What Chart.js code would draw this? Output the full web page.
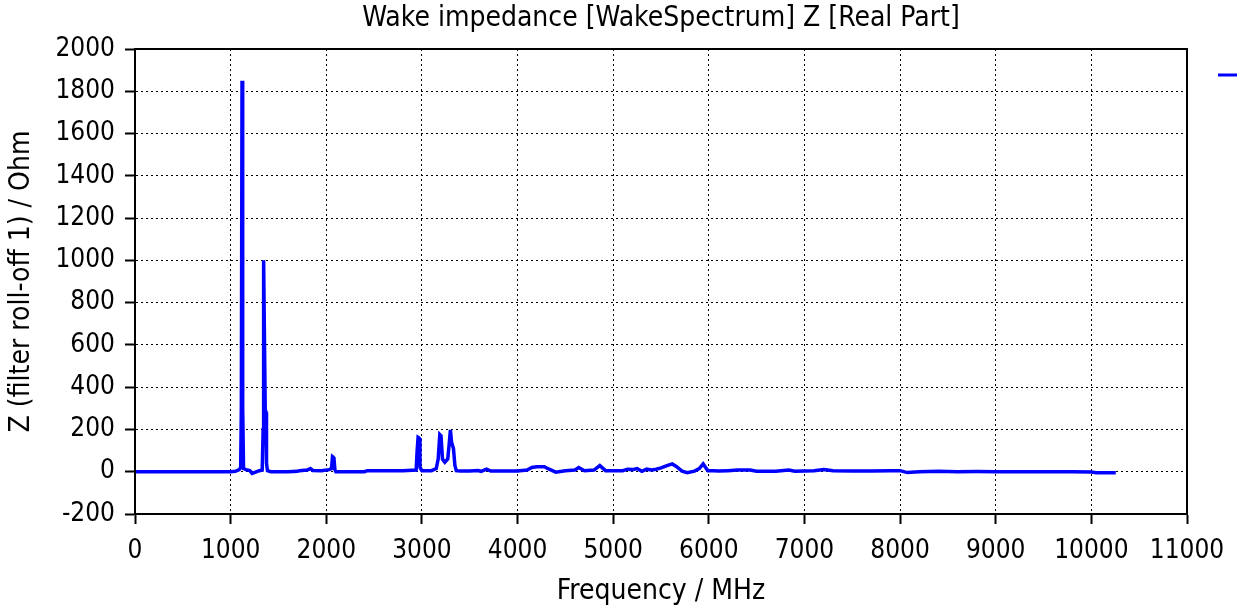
<!DOCTYPE html>
<html>
<head>
<meta charset="utf-8">
<script src="https://cdn.jsdelivr.net/npm/chart.js@4.4.1/dist/chart.umd.min.js"></script>
<style>
html,body{margin:0;padding:0;background:#fff;}
#wrap{width:1237px;height:609px;}
</style>
</head>
<body>
<div id="wrap"><canvas id="c" width="1237" height="609"></canvas></div>
<script>
// Frequency (MHz)
const freq = [
  0, 1000, 1050, 1090, 1105, 1112, 1119, 1126, 1135, 1160,
  1200, 1225, 1300, 1330, 1340, 1345, 1352, 1362, 1370, 1375,
  1385, 1420, 1500, 1600, 1700, 1720, 1800, 1834, 1860, 1950,
  2030, 2055, 2065, 2071, 2080, 2090, 2100, 2200, 2400, 2430,
  2600, 2800, 2940, 2950, 2960, 2970, 2980, 3000, 3100, 3150,
  3170, 3187, 3200, 3215, 3240, 3270, 3285, 3298, 3310, 3330,
  3345, 3360, 3400, 3500, 3585, 3620, 3675, 3720, 3800, 3900,
  4000, 4100, 4150, 4200, 4280, 4330, 4400, 4500, 4600, 4640,
  4700, 4800, 4860, 4920, 5000, 5100, 5150, 5200, 5250, 5300,
  5350, 5400, 5450, 5500, 5570, 5617, 5660, 5720, 5774, 5850,
  5900, 5941, 5990, 6050, 6100, 6200, 6300, 6430, 6500, 6600,
  6700, 6837, 6900, 7000, 7100, 7203, 7300, 7500, 7700, 7900,
  8000, 8075, 8200, 8400, 8600, 8800, 9000, 9200, 9400, 9600,
  9800, 10000, 10050, 10255
];
// Z real part (Ohm)
const zReal = [
  0, 0, 2, 10, 20, 300, 1850, 300, 15, 10,
  5, -8, 5, 8, 200, 1000, 700, 281, 281, 40,
  5, 0, 0, 0, 2, 5, 8, 15, 6, 5,
  10, 15, 72, 70, 65, 10, 0, 0, 0, 5,
  5, 5, 8, 100, 163, 160, 20, 5, 5, 15,
  60, 176, 170, 60, 45, 60, 130, 198, 140, 110,
  30, 5, 3, 3, 6, 2, 12, 3, 3, 3,
  3, 8, 20, 24, 24, 12, -2, 5, 8, 20,
  5, 8, 29, 5, 5, 5, 12, 10, 15, 2,
  12, 8, 12, 18, 30, 37, 25, 3, -5, 3,
  15, 37, 5, 5, 3, 5, 8, 8, 2, 2,
  2, 8, 2, 3, 5, 10, 5, 3, 3, 5,
  5, -4, 0, 2, 0, 1, 0, 0, 0, 0,
  0, -1, -5, -5
];
const xTicks = [0,1000,2000,3000,4000,5000,6000,7000,8000,9000,10000,11000];
const yTicks = [-200,0,200,400,600,800,1000,1200,1400,1600,1800,2000];
const titleText = 'Wake impedance [WakeSpectrum] Z [Real Part]';
const xTitle = 'Frequency / MHz';
const yTitle = 'Z (filter roll-off 1) / Ohm';

const FONT = "'DejaVu Sans Condensed', 'DejaVu Sans', sans-serif";

const framePlugin = {
  id: 'frame',
  afterDraw(chart) {
    const {ctx, chartArea: a} = chart;
    ctx.save();
    ctx.strokeStyle = '#000';
    ctx.lineWidth = 2;
    ctx.strokeRect(a.left, a.top, a.right - a.left, a.bottom - a.top);
    // legend swatch (legend text lies beyond the picture edge)
    ctx.strokeStyle = '#0000ff';
    ctx.lineWidth = 3;
    ctx.beginPath();
    ctx.moveTo(1218, 75);
    ctx.lineTo(1237, 75);
    ctx.stroke();
    ctx.restore();
  }
};

const points = freq.map((f, i) => ({x: f, y: zReal[i]}));

new Chart(document.getElementById('c'), {
  type: 'line',
  data: {
    datasets: [{
      label: 'Z',
      data: points,
      borderColor: '#0000ff',
      borderWidth: 3.5,
      pointRadius: 0,
      tension: 0,
      fill: false
    }]
  },
  options: {
    responsive: false,
    animation: false,
    devicePixelRatio: 1,
    layout: {padding: {left: 0, right: 50, top: 0, bottom: 0}},
    plugins: {
      legend: {display: false},
      tooltip: {enabled: false},
      title: {
        display: true,
        fullSize: false,
        text: titleText,
        color: '#000',
        font: {family: FONT, size: 28, weight: 'normal'},
        padding: {top: 2, bottom: 13.4}
      }
    },
    scales: {
      x: {
        type: 'linear',
        min: 0, max: 11000,
        afterBuildTicks(s) { s.ticks = xTicks.map(v => ({value: v})); },
        afterFit(s) { s.height = 95; },
        ticks: {color: '#000', font: {family: FONT, size: 26}, padding: 12, maxRotation: 0, autoSkip: false,
                callback: v => String(v)},
        grid: {color: '#000', lineWidth: 1, tickLength: 10, tickColor: '#000', tickWidth: 2},
        border: {display: true, color: '#000', width: 2, dash: [2, 3]},
        title: {display: true, text: xTitle, color: '#000', font: {family: FONT, size: 28}, padding: {top: 0, bottom: 0}}
      },
      y: {
        type: 'linear',
        min: -200, max: 2000,
        afterBuildTicks(s) { s.ticks = yTicks.map(v => ({value: v})); },
        afterFit(s) { s.width = 135; },
        ticks: {color: '#000', font: {family: FONT, size: 26}, padding: 10, autoSkip: false,
                callback: v => String(v)},
        grid: {color: '#000', lineWidth: 1, tickLength: 10, tickColor: '#000', tickWidth: 2},
        border: {display: true, color: '#000', width: 2, dash: [2, 3]},
        title: {display: true, text: yTitle, color: '#000', font: {family: FONT, size: 28}, padding: {top: 5, bottom: 0}}
      }
    }
  },
  plugins: [framePlugin]
});
</script>
</body>
</html>
